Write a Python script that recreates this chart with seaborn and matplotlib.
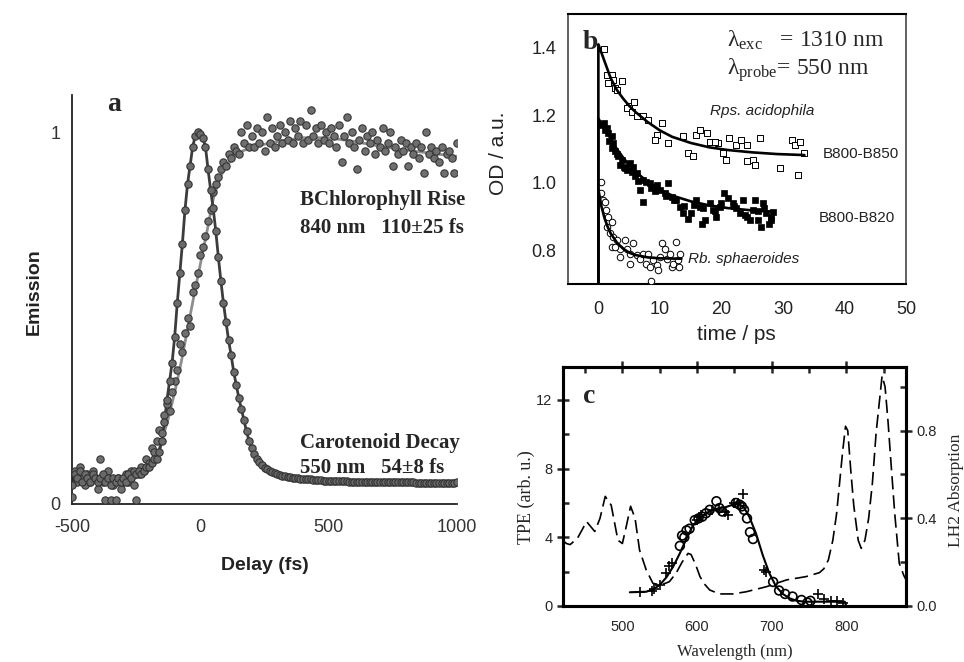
import numpy as np
import pandas as pd
import matplotlib
matplotlib.use("Agg")
import matplotlib.pyplot as plt
import seaborn as sns
from matplotlib.ticker import FixedLocator, FixedFormatter

sns.set_style("white")
plt.rcParams['font.family'] = ['Liberation Sans', 'DejaVu Sans']
plt.rcParams['mathtext.fontset'] = 'custom'
plt.rcParams['mathtext.rm'] = 'Liberation Serif'
plt.rcParams['mathtext.it'] = 'Liberation Serif:italic'
plt.rcParams['axes.unicode_minus'] = False

# ---------------- Panel a data (delay grid in fs, 10 fs steps) ----------------
delay_fs = np.arange(-500, 1001, 10)
carotenoid_550 = [
    0.05, 0.08, 0.07, 0.09, 0.06, 0.08, 0.07, 0.06, 0.08, 0.07, 0.06, 0.07, 0.08,
    0.06, 0.07, 0.05, 0.07, 0.06, 0.07, 0.06, 0.07, 0.06, 0.08, 0.07, 0.09,
    0.08, 0.09, 0.08, 0.09, 0.10, 0.10, 0.11, 0.12, 0.12, 0.14,
    0.17, 0.22, 0.28, 0.33, 0.38, 0.45, 0.54, 0.62, 0.70, 0.79, 0.86, 0.91, 0.96,
    0.99, 1.00, 0.995,
    0.985, 0.96, 0.90, 0.845, 0.795, 0.735, 0.665, 0.60, 0.54, 0.49, 0.44, 0.40,
    0.355, 0.32, 0.285, 0.255, 0.225, 0.195, 0.17, 0.15, 0.135, 0.122, 0.112,
    0.104, 0.098, 0.093, 0.089, 0.086, 0.083, 0.080,
    0.078, 0.076, 0.075, 0.073, 0.072, 0.071, 0.070, 0.069, 0.068, 0.068,
    0.067, 0.066, 0.066, 0.065, 0.065, 0.064, 0.064, 0.063, 0.063, 0.063,
    0.062, 0.062, 0.062, 0.061, 0.061, 0.061, 0.061, 0.060, 0.060, 0.060,
    0.060, 0.060, 0.060, 0.060, 0.059, 0.059, 0.059, 0.059, 0.059, 0.059,
    0.059, 0.059, 0.058, 0.058, 0.058, 0.058, 0.058, 0.058, 0.058, 0.058,
    0.058, 0.058, 0.058, 0.057, 0.057, 0.057, 0.057, 0.057, 0.057, 0.057,
    0.057, 0.057, 0.057, 0.057, 0.057, 0.057, 0.057, 0.057, 0.057, 0.058,
]
bchl_840 = [
    0.02, 0.09, 0.06, 0.10, 0.07, 0.05, 0.08, 0.06, 0.09, 0.07, 0.04, 0.12, 0.06,
    0.01, 0.09, 0.01, 0.05, 0.01, 0.07, 0.04, 0.06, 0.08, 0.06, 0.09, 0.05,
    0.01, 0.08, 0.10, 0.09, 0.12, 0.11, 0.15, 0.14, 0.17, 0.20,
    0.19, 0.24, 0.27, 0.25, 0.30, 0.33, 0.36, 0.43, 0.41, 0.46, 0.50, 0.48, 0.57,
    0.59, 0.62, 0.67,
    0.69, 0.72, 0.76, 0.79, 0.84, 0.86, 0.88, 0.90, 0.92, 0.91, 0.94, 0.93, 0.96,
    0.95, 0.94, 1.00, 0.97, 1.02, 0.96,
    0.99, 0.96, 1.01, 0.97, 1.00, 0.95, 1.04, 0.97, 1.01, 0.96,
    0.99, 1.02, 0.97, 1.00, 0.98, 1.03, 0.97, 1.01, 0.99, 1.03,
    0.97, 1.02, 0.98, 1.06, 0.99, 1.01, 0.97, 1.02, 0.98, 1.00,
    0.97, 1.01, 0.99, 0.96, 1.02, 0.92, 0.99, 1.04, 0.97, 1.00,
    0.96, 0.90, 0.98, 1.01, 0.95, 0.99, 0.97, 1.00, 0.94, 0.98,
    0.96, 1.01, 0.95, 0.97, 1.00, 0.91, 0.96, 0.94, 0.98, 0.95,
    0.97, 0.91, 0.96, 0.94, 0.97, 0.93, 0.96, 0.89, 1.00, 0.94,
    0.96, 0.93, 0.95, 0.92, 0.96, 0.89, 0.94, 0.95, 0.93, 0.89,
    0.97,
]
rise_fit_t = [-500, -250, -200, -175, -150, -125, -100, -75, -50, -25, 0, 25, 50,
              75, 100, 150, 200, 300, 400, 500, 600, 700, 800, 900, 1000]
rise_fit_v = [0.065, 0.07, 0.09, 0.12, 0.17, 0.23, 0.30, 0.38, 0.47, 0.56, 0.645,
              0.73, 0.82, 0.875, 0.91, 0.945, 0.96, 0.975, 0.985, 0.985, 0.975,
              0.962, 0.952, 0.943, 0.935]

# ---------------- Panel b data (time in ps, OD) ----------------
acido_t = [0.9, 1.35, 2.2, 2.4, 1.6, 2.7, 3.8, 3.0, 4.9, 5.8, 4.6, 5.4, 6.2, 7.3,
           8.1, 10.3, 9.5, 9.2, 11.4, 13.8, 14.6, 15.4, 15.8, 16.5, 17.6, 18.1,
           19.5, 18.9, 20.3, 20.8, 21.2, 22.4, 23.2, 24.1, 24.1, 25.1, 25.4, 26.2,
           29.5, 31.4, 31.9, 32.7, 32.4, 33.5]
acido_od = [1.395, 1.32, 1.32, 1.305, 1.296, 1.28, 1.30, 1.276, 1.227, 1.24, 1.22,
            1.21, 1.197, 1.197, 1.187, 1.177, 1.142, 1.127, 1.117, 1.137, 1.088,
            1.078, 1.142, 1.157, 1.147, 1.122, 1.117, 1.12, 1.088, 1.068, 1.132,
            1.112, 1.127, 1.112, 1.063, 1.068, 1.053, 1.132, 1.043, 1.127, 1.112,
            1.122, 1.023, 1.088]
acido_fit_t = [0, 0, 1, 2, 3, 4, 5, 6, 8, 10, 12, 15, 18, 21, 25, 29, 33.5]
acido_fit_od = [0.70, 1.41, 1.36, 1.31, 1.275, 1.25, 1.228, 1.21, 1.18, 1.155, 1.136,
                1.118, 1.105, 1.097, 1.09, 1.085, 1.082]

b820_t = [0.5, 0.9, 1.35, 1.6, 2.2, 2.4, 2.2, 2.7, 3.2, 3.8, 3.5, 4.1, 4.6, 5.1, 5.4,
          5.7, 6.2, 6.8, 7.3, 7.8, 8.4, 8.9, 9.5, 10.0, 7.3, 10.8, 11.4, 11.9, 12.7,
          13.2, 13.8, 14.6, 15.1, 15.9, 16.5, 16.8, 17.3, 18.1, 18.6, 19.2, 19.7,
          20.5, 21.1, 21.9, 22.4, 23.0, 23.5, 24.1, 24.6, 25.1, 25.4, 25.9, 26.5,
          26.8, 27.3, 27.8, 28.1, 28.4, 1.0, 1.8, 3.0, 4.3, 5.9, 6.5, 8.6, 9.2,
          11.0, 12.3, 14.0, 15.5, 17.0, 19.0, 20.0, 22.0, 23.8, 26.0, 27.0, 28.0]
b820_od = [1.172, 1.177, 1.162, 1.147, 1.137, 1.117, 1.103, 1.093, 1.078, 1.068,
           1.053, 1.048, 1.038, 1.058, 1.033, 1.048, 1.028, 0.979, 1.008, 1.003,
           0.998, 0.988, 0.993, 0.979, 0.944, 0.969, 0.998, 0.959, 0.949, 0.929,
           0.909, 0.894, 0.909, 0.949, 0.929, 0.879, 0.889, 0.939, 0.919, 0.899,
           0.929, 0.969, 0.954, 0.939, 0.924, 0.909, 0.949, 0.899, 0.889, 0.919,
           0.949, 0.889, 0.869, 0.939, 0.909, 0.879, 0.899, 0.914, 1.155, 1.125,
           1.085, 1.045, 1.020, 1.005, 0.985, 0.975, 0.960, 0.950, 0.930, 0.935,
           0.925, 0.915, 0.940, 0.930, 0.905, 0.915, 0.925, 0.890]
b820_fit_t = [0, 0, 1, 2, 3, 4, 5, 6, 8, 10, 12, 15, 18, 21, 25, 28.5]
b820_fit_od = [0.70, 1.19, 1.16, 1.13, 1.10, 1.075, 1.052, 1.033, 1.003, 0.98, 0.962,
               0.945, 0.933, 0.925, 0.918, 0.914]

sphaer_t = [0.4, 0.5, 0.8, 1.1, 1.2, 1.6, 2.2, 1.35, 1.9, 2.4, 3.0, 2.2, 3.5, 4.3,
            4.6, 5.1, 5.7, 6.2, 6.8, 7.3, 7.8, 8.1, 8.4, 8.5, 8.9, 9.5, 9.7, 10.0,
            10.4, 10.8, 11.1, 11.6, 11.9, 12.2, 12.7, 13.0, 13.2, 13.1, 5.1, 3.5, 2.7]
sphaer_od = [1.003, 0.969, 0.949, 0.944, 0.919, 0.899, 0.884, 0.869, 0.85, 0.84,
             0.83, 0.81, 0.805, 0.83, 0.805, 0.79, 0.82, 0.785, 0.775, 0.79, 0.76,
             0.79, 0.75, 0.71, 0.77, 0.755, 0.74, 0.78, 0.82, 0.805, 0.775, 0.79,
             0.75, 0.76, 0.825, 0.77, 0.79, 0.75, 0.76, 0.78, 0.81]
sphaer_fit_t = [0, 0, 0.5, 1, 1.5, 2, 3, 4, 5, 6, 8, 10, 13.5]
sphaer_fit_od = [0.70, 0.98, 0.93, 0.895, 0.87, 0.85, 0.823, 0.805, 0.793, 0.786,
                 0.779, 0.776, 0.775]

# ---------------- Panel c data (wavelength nm) ----------------
abs_nm = [420, 425, 430, 440, 452, 463, 470, 477, 485, 494, 500, 505, 511, 517, 523,
          532, 541, 552, 563, 572, 580, 588, 592, 598, 604, 610, 617, 630, 648, 666,
          693, 720, 746, 764, 770, 776, 782, 787, 791, 795, 799, 802, 806, 810, 816,
          820, 825, 830, 835, 840, 844, 848, 852, 856, 860, 865, 871, 877, 880]
abs_lh2 = [0.30, 0.285, 0.28, 0.31, 0.385, 0.34, 0.40, 0.50, 0.46, 0.30, 0.285, 0.36,
           0.455, 0.40, 0.255, 0.164, 0.103, 0.096, 0.111, 0.15, 0.20, 0.24, 0.235,
           0.19, 0.134, 0.10, 0.073, 0.055, 0.055, 0.065, 0.088, 0.119, 0.134, 0.152,
           0.17, 0.21, 0.30, 0.42, 0.56, 0.70, 0.82, 0.80, 0.62, 0.46, 0.30, 0.263,
           0.30, 0.40, 0.56, 0.79, 0.92, 1.05, 1.0, 0.84, 0.65, 0.42, 0.195, 0.14, 0.12]
tpe_fit_nm = [510, 532, 541, 550, 559, 568, 577, 586, 595, 604, 612, 621, 630, 638,
              648, 655, 662, 670, 679, 688, 697, 706, 715, 724, 733, 744, 755, 778,
              798, 800]
tpe_fit = [0.8, 0.83, 0.97, 1.22, 1.67, 2.29, 3.07, 3.94, 4.72, 5.1, 5.4, 5.6, 5.7,
           5.75, 5.9, 5.94, 5.8, 5.2, 4.23, 2.97, 1.9, 1.13, 0.7, 0.45, 0.31, 0.25,
           0.25, 0.25, 0.25, 0.0]
tpe_circ_nm = [577, 580, 583, 586, 590, 597, 602, 607, 612, 617, 626, 630, 634, 652,
               657, 660, 663, 667, 671, 675, 702, 710, 718, 728, 740, 748, 752]
tpe_circ = [3.5, 4.1, 4.0, 4.4, 4.5, 5.0, 5.1, 5.2, 5.4, 5.6, 6.1, 5.7, 5.5, 6.0, 5.9,
            5.8, 5.6, 5.1, 4.3, 3.9, 1.4, 0.9, 0.7, 0.55, 0.35, 0.2, 0.3]
tpe_plus_nm = [524, 540, 543, 550, 558, 562, 566, 600, 603, 606, 620, 630, 638, 642,
               650, 655, 662, 690, 693, 762, 770, 780, 788, 795]
tpe_plus = [0.8, 0.9, 1.0, 1.2, 1.9, 2.3, 2.5, 5.0, 5.2, 5.3, 5.6, 5.6, 5.5, 5.3, 6.0,
            6.0, 6.5, 2.1, 2.0, 0.7, 0.4, 0.3, 0.3, 0.2]

# ====================================================================
fig = plt.figure(figsize=(9.64, 6.62), dpi=100)
fig.patch.set_facecolor('white')

# ---------------- Panel a ----------------
axa = fig.add_axes([0.0747, 0.2387, 0.3994, 0.6178])
dfa = pd.DataFrame({'t': delay_fs, 'car': carotenoid_550, 'bchl': bchl_840})
sns.lineplot(x=rise_fit_t, y=rise_fit_v, ax=axa, color='#8e8e8e', lw=2.0,
             sort=False, estimator=None, zorder=2)
sns.lineplot(data=dfa, x='t', y='car', ax=axa, color='#3c3c3c', lw=2.0,
             sort=False, estimator=None, zorder=2)
sns.scatterplot(data=dfa, x='t', y='bchl', ax=axa, s=28, color='#6f6f6f',
                edgecolor='#363636', linewidth=0.8, zorder=3)
sns.scatterplot(data=dfa, x='t', y='car', ax=axa, s=28, color='#6a6a6a',
                edgecolor='#333333', linewidth=0.8, zorder=4)
axa.set_xlim(-500, 1000)
axa.set_ylim(0, 1.1)
for s in ['top', 'right']:
    axa.spines[s].set_visible(False)
for s in ['left', 'bottom']:
    axa.spines[s].set_linewidth(1.3)
    axa.spines[s].set_color('#222222')
axa.xaxis.set_major_locator(FixedLocator([-500, 0, 500, 1000]))
axa.xaxis.set_minor_locator(FixedLocator([-250, 250, 750]))
axa.yaxis.set_major_locator(FixedLocator([0, 1]))
axa.yaxis.set_major_formatter(FixedFormatter(['0', '1']))
axa.yaxis.set_minor_locator(FixedLocator([0.2, 0.4, 0.6, 0.8]))
axa.tick_params(which='major', direction='inout', length=10, width=1.3,
                labelsize=13, color='#222222', labelcolor='#333333')
axa.tick_params(which='minor', direction='in', length=5, width=1.3, color='#222222')
axa.tick_params(axis='x', which='major', pad=6)
axa.set_xlabel('Delay (fs)', fontsize=14, fontweight='bold', color='#222222')
axa.set_ylabel('Emission', fontsize=14, fontweight='bold', color='#222222')
axa.xaxis.set_label_coords(0.50, -0.13)
axa.yaxis.set_label_coords(-0.075, 0.52)
serif_b = dict(family=['Liberation Serif', 'DejaVu Serif'], fontweight='bold')
axa.text(0.091, 0.976, 'a', transform=axa.transAxes, fontsize=20, va='center',
         ha='left', **serif_b)
axa.text(0.592, 0.743, 'BChlorophyll Rise', transform=axa.transAxes, fontsize=15,
         va='center', ha='left', **serif_b)
axa.text(0.592, 0.675, '840 nm   110\u00b125 fs', transform=axa.transAxes,
         fontsize=15, va='center', ha='left', **serif_b)
axa.text(0.592, 0.149, 'Carotenoid Decay', transform=axa.transAxes, fontsize=15,
         va='center', ha='left', **serif_b)
axa.text(0.592, 0.088, '550 nm   54\u00b18 fs', transform=axa.transAxes,
         fontsize=15, va='center', ha='left', **serif_b)

# ---------------- Panel b ----------------
axb = fig.add_axes([0.5888, 0.5710, 0.3510, 0.4079])
sns.scatterplot(x=acido_t, y=acido_od, ax=axb, marker='s', s=22, color='white',
                edgecolor='black', linewidth=0.7, zorder=3)
sns.scatterplot(x=b820_t, y=b820_od, ax=axb, marker='s', s=24, color='black',
                edgecolor='black', linewidth=0.5, zorder=3)
sns.scatterplot(x=sphaer_t, y=sphaer_od, ax=axb, marker='o', s=22, color='white',
                edgecolor='black', linewidth=0.7, zorder=3)
for ft, fv in [(acido_fit_t, acido_fit_od), (b820_fit_t, b820_fit_od),
               (sphaer_fit_t, sphaer_fit_od)]:
    sns.lineplot(x=ft, y=fv, ax=axb, color='black', lw=1.9, sort=False,
                 estimator=None, zorder=4)
axb.set_xlim(-5, 50)
axb.set_ylim(0.7, 1.5)
axb.xaxis.set_major_locator(FixedLocator([0, 10, 20, 30, 40, 50]))
axb.yaxis.set_major_locator(FixedLocator([0.8, 1.0, 1.2, 1.4]))
axb.yaxis.set_major_formatter(FixedFormatter(['0.8', '1.0', '1.2', '1.4']))
for s in ['top', 'bottom']:
    axb.spines[s].set_linewidth(1.5)
    axb.spines[s].set_color('black')
for s in ['left', 'right']:
    axb.spines[s].set_linewidth(1.3)
    axb.spines[s].set_color('#555555')
axb.tick_params(axis='y', direction='out', length=5, width=1.2, labelsize=13,
                color='#333333', labelcolor='#222222', pad=3)
axb.tick_params(axis='x', direction='out', length=4, width=1.0, labelsize=13,
                color='#333333', labelcolor='#222222', pad=8)
axb.set_xlabel('time / ps', fontsize=15, color='#222222')
axb.set_ylabel('OD / a.u.', fontsize=15, color='#222222')
axb.xaxis.set_label_coords(0.50, -0.152)
axb.yaxis.set_label_coords(-0.176, 0.485)
axb.text(0.046, 0.893, 'b', transform=axb.transAxes, fontsize=20, va='center',
         ha='left', **serif_b)
axb.text(0.471, 0.904, '$\\mathrm{\u03bb}_{\\mathrm{exc}}$   = 1310 nm',
         transform=axb.transAxes, fontsize=17, va='center', ha='left',
         family=['Liberation Serif', 'DejaVu Serif'])
axb.text(0.471, 0.793, '$\\mathrm{\u03bb}_{\\mathrm{probe}}$= 550 nm',
         transform=axb.transAxes, fontsize=17, va='center', ha='left',
         family=['Liberation Serif', 'DejaVu Serif'])
axb.text(18.1, 1.212, 'Rps. acidophila', fontsize=11, style='italic',
         va='center', ha='left', color='#222222')
axb.text(14.6, 0.775, 'Rb. sphaeroides', fontsize=11, style='italic',
         va='center', ha='left', color='#222222')
axb.text(36.5, 1.086, 'B800-B850', fontsize=11, va='center', ha='left',
         color='#222222')
axb.text(35.9, 0.897, 'B800-B820', fontsize=11, va='center', ha='left',
         color='#222222')

# ---------------- Panel c ----------------
axc = fig.add_axes([0.5837, 0.0846, 0.3561, 0.3606])
axc2 = axc.twinx()
sns.lineplot(x=tpe_fit_nm, y=tpe_fit, ax=axc, color='black', lw=1.5, sort=False,
             estimator=None, zorder=3)
sns.scatterplot(x=tpe_circ_nm, y=tpe_circ, ax=axc, marker='o', s=40, color='none',
                edgecolor='black', linewidth=1.2, zorder=4)
sns.scatterplot(x=tpe_plus_nm, y=tpe_plus, ax=axc, marker='+', s=55, color='black',
                linewidth=1.2, zorder=4)
sns.lineplot(x=abs_nm, y=abs_lh2, ax=axc2, color='black', lw=1.2, sort=False,
             estimator=None, linestyle=(0, (8, 3.5)))
axc.set_xlim(420, 880)
axc.set_ylim(0, 13.9)
axc2.set_ylim(0, 1.089)
axc.xaxis.set_major_locator(FixedLocator([500, 600, 700, 800]))
axc.xaxis.set_minor_locator(FixedLocator([450, 550, 650, 750, 850]))
axc.yaxis.set_major_locator(FixedLocator([0, 4, 8, 12]))
axc.yaxis.set_minor_locator(FixedLocator([2, 6, 10]))
axc2.yaxis.set_major_locator(FixedLocator([0.0, 0.4, 0.8]))
axc2.yaxis.set_major_formatter(FixedFormatter(['0.0', '0.4', '0.8']))
axc2.yaxis.set_minor_locator(FixedLocator([0.2, 0.6, 1.0]))
for ax in (axc, axc2):
    for s in ax.spines.values():
        s.set_linewidth(2.2)
        s.set_color('black')
axc.tick_params(axis='x', which='major', direction='inout', length=8, width=1.8,
                top=True, labelsize=10.5, pad=6)
axc.tick_params(axis='x', which='minor', direction='in', length=4, width=1.8,
                top=True)
axc.tick_params(axis='y', which='major', direction='inout', length=8, width=1.8,
                labelsize=10.5, right=False)
axc.tick_params(axis='y', which='minor', direction='in', length=4, width=1.8,
                right=False)
axc2.tick_params(axis='y', which='major', direction='inout', length=8, width=1.8,
                 labelsize=10.5, left=False)
axc2.tick_params(axis='y', which='minor', direction='in', length=4, width=1.8,
                 left=False)
serif = ['Liberation Serif', 'DejaVu Serif']
axc.set_xlabel('Wavelength (nm)', fontsize=12, family=serif)
axc.set_ylabel('TPE (arb. u.)', fontsize=13, family=serif)
axc2.set_ylabel('LH2 Absorption', fontsize=12.5, family=serif)
axc.xaxis.set_label_coords(0.50, -0.16)
axc.yaxis.set_label_coords(-0.081, 0.457)
axc2.yaxis.set_label_coords(1.122, 0.486)
axc.text(0.059, 0.876, 'c', transform=axc.transAxes, fontsize=20, va='center',
         ha='left', **serif_b)

fig.savefig('out.png', dpi=100, facecolor='white')
